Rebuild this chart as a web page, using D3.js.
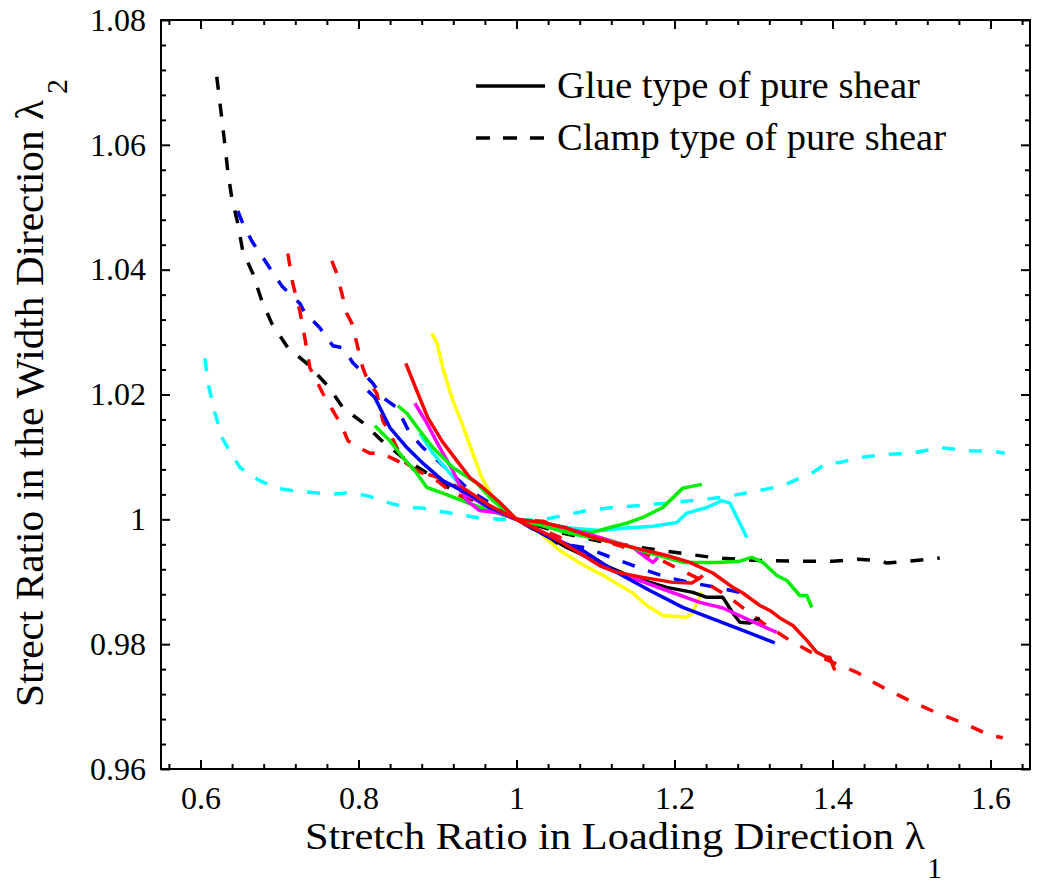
<!DOCTYPE html>
<html><head><meta charset="utf-8">
<script src="https://cdn.jsdelivr.net/npm/d3@7"></script>
<style>
body{margin:0;background:#fff;}
svg{display:block;}
text{font-family:"Liberation Serif","Times New Roman",serif;fill:#000;}
</style></head>
<body><svg id="chart" width="1050" height="896"></svg>
<script>
// ---- data (λ1, λ2) ----
const xTicks = [0.6, 0.8, 1, 1.2, 1.4, 1.6];
const xTickLabels = ["0.6", "0.8", "1", "1.2", "1.4", "1.6"];
const yTicks = [0.96, 0.98, 1, 1.02, 1.04, 1.06, 1.08];
const yTickLabels = ["0.96", "0.98", "1", "1.02", "1.04", "1.06", "1.08"];
const legendLabels = ["Glue type of pure shear", "Clamp type of pure shear"];

const clampBlack = [[0.6206,1.0709],[0.6269,1.0643],[0.6307,1.0602],[0.6345,1.0558],[0.6396,1.0515],[0.6472,1.0474],[0.6535,1.0430],[0.6662,1.0394],[0.6776,1.0350],[0.6902,1.0314],[0.7105,1.0275],[0.7345,1.0250],[0.7611,1.0214],[0.7801,1.0179],[0.8054,1.0155],[0.8295,1.0126],[0.8561,1.0099],[0.8865,1.0074],[0.9194,1.0046],[0.9535,1.0026],[1,1],[1.0548,0.9979],[1.1054,0.9965],[1.1561,0.9955],[1.2067,0.9946],[1.2535,0.9938],[1.3080,0.9934],[1.3586,0.9933],[1.4004,0.9933],[1.4320,0.9936],[1.4599,0.9934],[1.4687,0.9930],[1.4978,0.9933],[1.5358,0.9938]];
const clampBlue = [[0.6472,1.0494],[0.6523,1.0478],[0.6649,1.0446],[0.6839,1.0410],[0.7029,1.0374],[0.7092,1.0366],[0.7257,1.0346],[0.7320,1.0331],[0.7510,1.0307],[0.7675,1.0278],[0.7801,1.0275],[0.7928,1.0251],[0.8054,1.0235],[0.8181,1.0218],[0.8308,1.0195],[0.8485,1.0179],[0.8650,1.0138],[0.8814,1.0115],[0.9029,1.0091],[0.9409,1.0046],[1,1],[1.0510,0.9962],[1.0890,0.9954],[1.1219,0.9938],[1.1561,0.9922],[1.1903,0.9907],[1.2232,0.9898],[1.2574,0.9890],[1.2992,0.9878]];
const clampRedA = [[0.7105,1.0426],[0.7168,1.0378],[0.7257,1.0334],[0.7320,1.0291],[0.7384,1.0243],[0.7447,1.0227],[0.7548,1.0202],[0.7675,1.0174],[0.7789,1.0150],[0.7865,1.0126],[0.7953,1.0118],[0.8143,1.0106],[0.8295,1.0106],[0.8485,1.0094],[0.8650,1.0083],[0.8814,1.0074],[0.8991,1.0062],[0.9156,1.0046],[0.9535,1.0022],[1,1],[1.0333,0.9997],[1.0510,0.9990],[1.0801,0.9979],[1.1181,0.9963],[1.1561,0.9947],[1.1776,0.9938],[1.2029,0.9922],[1.2320,0.9904],[1.2662,0.9878],[1.2953,0.9850],[1.3118,0.9834],[1.3460,0.9806],[1.3801,0.9782],[1.4092,0.9766],[1.4308,0.9755],[1.4472,0.9742],[1.4725,0.9725],[1.5016,0.9707],[1.5320,0.9690],[1.5649,0.9674],[1.5991,0.9654],[1.6156,0.9650]];
const clampRedB = [[0.7662,1.0414],[0.7725,1.0394],[0.7789,1.0362],[0.7852,1.0330],[0.7916,1.0314],[0.7992,1.0275],[0.8054,1.0243],[0.8118,1.0222],[0.8232,1.0202],[0.8308,1.0158],[0.8397,1.0138],[0.8485,1.0115],[0.8561,1.0094],[0.8738,1.0078],[0.9029,1.0066],[0.9345,1.0046],[0.9662,1.0022],[1,1],[1.0300,0.9985],[1.0637,0.9966]];
const clampCyan = [[0.6057,1.0258],[0.6095,1.0218],[0.6184,1.0170],[0.6272,1.0131],[0.6348,1.0114],[0.6500,1.0083],[0.6601,1.0074],[0.6751,1.0062],[0.6967,1.0050],[0.7169,1.0046],[0.7422,1.0043],[0.7637,1.0040],[0.7852,1.0042],[0.8105,1.0038],[0.8397,1.0026],[0.8612,1.0019],[0.8814,1.0018],[0.9156,1.0010],[0.9497,1.0003],[0.9789,1.0000],[1,1],[1.0295,0.9998],[1.0586,1.0006],[1.0890,1.0014],[1.1219,1.0019],[1.1561,1.0022],[1.1903,1.0026],[1.2232,1.0030],[1.2574,1.0035],[1.2954,1.0043],[1.3371,1.0054],[1.3586,1.0066],[1.3751,1.0075],[1.3928,1.0090],[1.4092,1.0091],[1.4346,1.0099],[1.4688,1.0104],[1.5016,1.0106],[1.5358,1.0115],[1.5738,1.0110],[1.6029,1.0109],[1.6181,1.0106]];

const glueRedLong = [[0.8599,1.0250],[0.8738,1.0206],[0.8877,1.0163],[0.9054,1.0126],[0.9244,1.0094],[0.9409,1.0067],[0.9573,1.0051],[0.9789,1.0027],[1,1],[1.0333,0.9995],[1.0637,0.9986],[1.0966,0.9971],[1.1472,0.9955],[1.1903,0.9942],[1.2194,0.9931],[1.2485,0.9914],[1.2738,0.9891],[1.2865,0.9882],[1.3080,0.9862],[1.3207,0.9854],[1.3333,0.9842],[1.3498,0.9830],[1.3675,0.9806],[1.3801,0.9787],[1.3928,0.9779],[1.3966,0.9779],[1.4029,0.9758]];
const glueRedShort = [[0.9282,1.0054],[0.9662,1.0022],[1,1],[1.0422,0.9974],[1.0801,0.9946],[1.1054,0.9926],[1.1270,0.9915],[1.1599,0.9907],[1.1979,0.9899],[1.2219,0.9898],[1.2320,0.9906],[1.2359,0.9910]];
const glueYellow = [[0.8928,1.0298],[0.8991,1.0283],[0.9067,1.0243],[0.9181,1.0195],[0.9308,1.0154],[0.9434,1.0110],[0.9561,1.0067],[0.9700,1.0035],[1,1],[1.0295,0.9979],[1.0548,0.9950],[1.0801,0.9930],[1.1143,0.9907],[1.1472,0.9882],[1.1649,0.9862],[1.1852,0.9846],[1.2156,0.9843],[1.2232,0.9850],[1.2282,0.9866],[1.2346,0.9883]];
const glueMagentaLong = [[0.8713,1.0186],[0.8865,1.0154],[0.9029,1.0115],[0.9194,1.0078],[0.9371,1.0030],[0.9535,1.0014],[0.9789,1.0010],[1,1],[1.0548,0.9966],[1.1054,0.9926],[1.1561,0.9902],[1.1903,0.9886],[1.2320,0.9867],[1.2612,0.9858],[1.2954,0.9838],[1.3295,0.9819]];
const glueMagentaShort = [[0.9282,1.0046],[0.9662,1.0018],[1,1],[1.0637,0.9986],[1.1054,0.9971],[1.1472,0.9955],[1.1649,0.9938],[1.1726,0.9931],[1.1790,0.9939]];
const glueGreenA = [[0.8207,1.0150],[0.8397,1.0126],[0.8561,1.0099],[0.8738,1.0074],[0.8865,1.0051],[0.9067,1.0042],[0.9371,1.0027],[0.9662,1.0014],[1,1],[1.0637,0.9982],[1.0966,0.9979],[1.1181,0.9987],[1.1397,0.9994],[1.1599,1.0003],[1.1852,1.0019],[1.2105,1.0050],[1.2346,1.0056]];
const glueGreenB = [[0.8499,1.0182],[0.8612,1.0170],[0.8776,1.0142],[0.8941,1.0115],[0.9194,1.0083],[0.9497,1.0058],[0.9700,1.0030],[1,1],[1.0206,0.9994],[1.0637,0.9979],[1.1270,0.9962],[1.1688,0.9946],[1.2105,0.9931],[1.2535,0.9931],[1.2827,0.9933],[1.2979,0.9939],[1.3118,0.9931],[1.3295,0.9910],[1.3422,0.9902],[1.3586,0.9878],[1.3675,0.9878],[1.3738,0.9859]];
const glueCyan = [[0.8776,1.0138],[0.8941,1.0106],[0.9156,1.0074],[0.9371,1.0042],[0.9624,1.0019],[1,1],[1.0675,0.9986],[1.1054,0.9982],[1.1397,0.9986],[1.1726,0.9989],[1.2029,0.9995],[1.2156,1.0010],[1.2409,1.0019],[1.2599,1.0030],[1.2701,1.0026],[1.2916,0.9971]];
const glueBlue = [[0.8118,1.0206],[0.8207,1.0195],[0.8397,1.0147],[0.8612,1.0115],[0.8814,1.0090],[0.9067,1.0062],[0.9371,1.0042],[0.9662,1.0019],[1,1],[1.0422,0.9971],[1.0839,0.9950],[1.1270,0.9915],[1.1688,0.9886],[1.2105,0.9859],[1.2535,0.9838],[1.2865,0.9822],[1.3270,0.9802]];
const glueBlack = [[0.9409,1.0038],[0.9662,1.0018],[1,1],[1.0637,0.9955],[1.1054,0.9930],[1.1472,0.9907],[1.1903,0.9891],[1.2232,0.9883],[1.2409,0.9875],[1.2612,0.9875],[1.2738,0.9850],[1.2827,0.9835],[1.2954,0.9834],[1.3080,0.9842]];

const seriesList = [
  {data: clampCyan, color: "#00ffff", dashed: true},
  {data: clampBlack, color: "#000000", dashed: true},
  {data: clampBlue, color: "#0000ff", dashed: true},
  {data: clampRedB, color: "#ff0000", dashed: true},
  {data: clampRedA, color: "#ff0000", dashed: true},
  {data: glueYellow, color: "#ffff00", dashed: false},
  {data: glueCyan, color: "#00ffff", dashed: false},
  {data: glueGreenA, color: "#00ee00", dashed: false},
  {data: glueBlack, color: "#000000", dashed: false},
  {data: glueMagentaShort, color: "#ff00ff", dashed: false},
  {data: glueMagentaLong, color: "#ff00ff", dashed: false},
  {data: glueBlue, color: "#0000ff", dashed: false},
  {data: glueGreenB, color: "#00ee00", dashed: false},
  {data: glueRedShort, color: "#ff0000", dashed: false},
  {data: glueRedLong, color: "#ff0000", dashed: false}
];

// ---- drawing ----
const svg = d3.select("#chart");
const L = 161, R = 1030, T = 20, B = 769;
const x = d3.scaleLinear().domain([0.55, 1.65]).range([L, R]);
const y = d3.scaleLinear().domain([0.96, 1.08]).range([B, T]);

const xMinor = d3.range(0.56, 1.6501, 0.04).map(v => +v.toFixed(2)).filter(v => !xTicks.some(t => Math.abs(t - v) < 1e-6));
const yMinor = d3.range(0.96, 1.0801, 0.004).map(v => +v.toFixed(3)).filter(v => !yTicks.some(t => Math.abs(t - v) < 1e-6));

function styleAxis(g) {
  g.select(".domain").remove();
  g.selectAll(".tick line").attr("stroke", "#000").attr("stroke-width", 2);
}
const fontSize = 32;
function styleText(g) {
  g.selectAll("text").attr("font-size", fontSize).attr("font-family", "Liberation Serif, serif").attr("fill", "#000");
}
// bottom
svg.append("g").attr("transform", `translate(0,${B})`)
  .call(d3.axisBottom(x).tickValues(xTicks).tickSize(-9).tickPadding(17).tickFormat((d, i) => xTickLabels[i]))
  .call(styleAxis).call(styleText);
svg.append("g").attr("transform", `translate(0,${B})`)
  .call(d3.axisBottom(x).tickValues(xMinor).tickSize(-5).tickFormat(""))
  .call(styleAxis);
// top
svg.append("g").attr("transform", `translate(0,${T})`)
  .call(d3.axisTop(x).tickValues(xTicks).tickSize(-9).tickFormat("")).call(styleAxis);
svg.append("g").attr("transform", `translate(0,${T})`)
  .call(d3.axisTop(x).tickValues(xMinor).tickSize(-5).tickFormat("")).call(styleAxis);
// left
svg.append("g").attr("transform", `translate(${L},0)`)
  .call(d3.axisLeft(y).tickValues(yTicks).tickSize(-9).tickPadding(15).tickFormat((d, i) => yTickLabels[i]))
  .call(styleAxis).call(styleText);
svg.append("g").attr("transform", `translate(${L},0)`)
  .call(d3.axisLeft(y).tickValues(yMinor).tickSize(-5).tickFormat("")).call(styleAxis);
// right
svg.append("g").attr("transform", `translate(${R},0)`)
  .call(d3.axisRight(y).tickValues(yTicks).tickSize(-9).tickFormat("")).call(styleAxis);
svg.append("g").attr("transform", `translate(${R},0)`)
  .call(d3.axisRight(y).tickValues(yMinor).tickSize(-5).tickFormat("")).call(styleAxis);

// frame
svg.append("rect").attr("x", L).attr("y", T).attr("width", R - L).attr("height", B - T)
  .attr("fill", "none").attr("stroke", "#000").attr("stroke-width", 2);

// curves
const line = d3.line().x(d => x(d[0])).y(d => y(d[1]));
const gLines = svg.append("g");
seriesList.forEach(s => {
  gLines.append("path").attr("d", line(s.data))
    .attr("fill", "none").attr("stroke", s.color).attr("stroke-width", 3.5)
    .attr("stroke-linejoin", "round")
    .attr("stroke-dasharray", s.dashed ? "13,14" : null);
});

// legend
const lg = svg.append("g");
const legendWidths = [363, 389];
[0, 1].forEach(i => {
  const ly = 86 + i * 52;
  lg.append("line").attr("x1", 476).attr("x2", 545).attr("y1", ly).attr("y2", ly)
    .attr("stroke", "#000").attr("stroke-width", 3.5)
    .attr("stroke-dasharray", i === 1 ? "14,13" : null);
  lg.append("text").attr("x", 557).attr("y", ly + 12).attr("font-size", 38)
    .attr("textLength", legendWidths[i]).attr("lengthAdjust", "spacingAndGlyphs")
    .text(legendLabels[i]);
});

// axis titles
svg.append("text").attr("x", 305).attr("y", 849).attr("font-size", 37)
  .attr("textLength", 620).attr("lengthAdjust", "spacingAndGlyphs")
  .text("Stretch Ratio in Loading Direction λ");
svg.append("text").attr("x", 927).attr("y", 878).attr("font-size", 30).text("1");

svg.append("text").attr("transform", "translate(43,707) rotate(-90)").attr("font-size", 39)
  .attr("textLength", 607).attr("lengthAdjust", "spacingAndGlyphs")
  .text("Strect Ratio in the Width Direction λ");
svg.append("text").attr("transform", "translate(67,94) rotate(-90)").attr("font-size", 30).text("2");
</script>
</body></html>
